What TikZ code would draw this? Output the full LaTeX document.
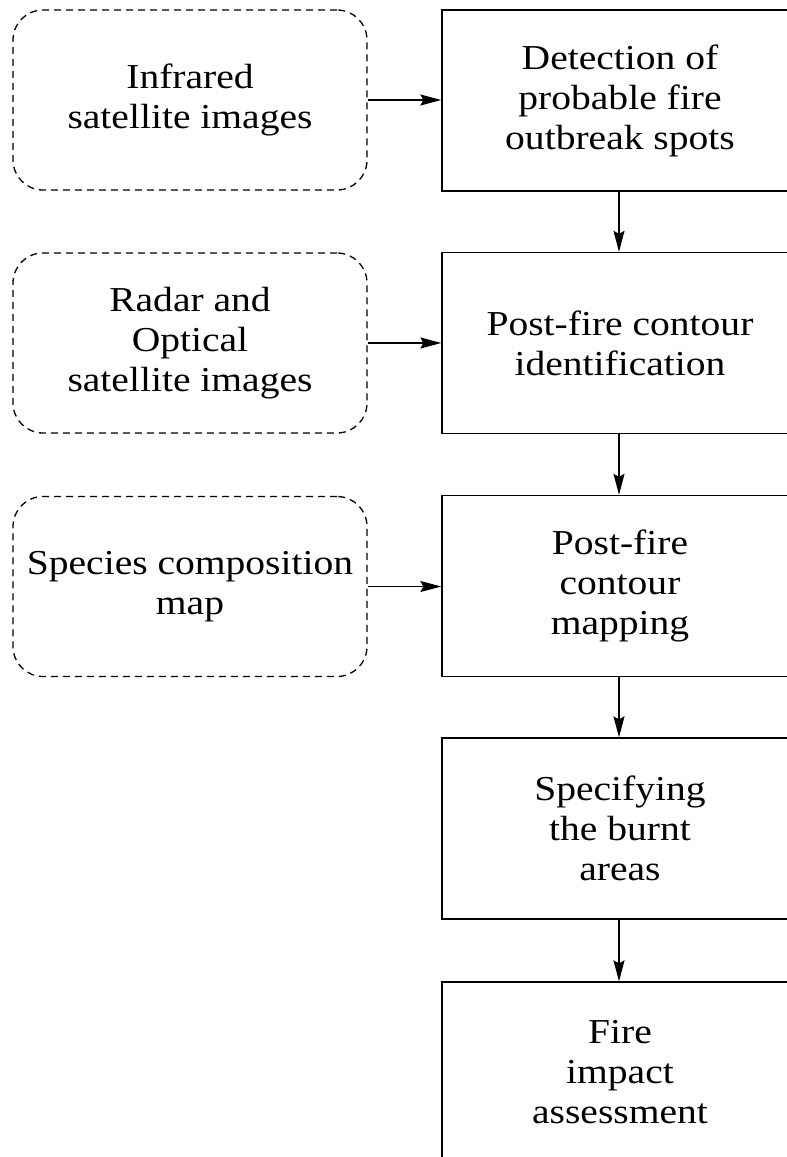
\documentclass[tikz,border=0pt]{standalone}
\usepackage{fontspec}
\setmainfont{Liberation Serif}[FakeStretch=1.13]
\usetikzlibrary{arrows.meta}
\begin{document}
\begin{tikzpicture}[x=1pt,y=-1pt,
  txt/.style={font=\fontsize{35}{40}\selectfont, align=center, inner sep=0pt},
  procbox/.style={txt, draw, line width=1.3pt, minimum width=356pt, minimum height=181pt},
  srcbox/.style={txt, draw, line width=1.3pt, dash pattern=on 7pt off 5pt, rounded corners=30pt, minimum width=354pt, minimum height=180pt},
  arr/.style={line width=1.3pt, -{Stealth[length=21pt,width=11pt,inset=3pt]}}
]
\useasboundingbox (0,0) rectangle (787,1157);
\clip (0,0) rectangle (787,1157);
\fill[white] (0,0) rectangle (787,1157);

\node[procbox] (p1) at (620,100.5) {Detection of\\probable fire\\outbreak spots};
\node[procbox] (p2) at (620,343) {Post-fire contour\\identification};
\node[procbox] (p3) at (620,586) {Post-fire\\contour\\mapping};
\node[procbox] (p4) at (620,828.5) {Specifying\\the burnt\\areas};
\node[procbox] (p5) at (620,1072.5) {Fire\\impact\\assessment};

\node[srcbox] (s1) at (190,100) {Infrared\\satellite images};
\node[srcbox] (s2) at (190,343) {Radar and\\Optical\\satellite images};
\node[srcbox] (s3) at (190,586.5) {Species composition\\map};

\draw[arr] (s1.east) -- (s1.east -| p1.west);
\draw[arr] (s2.east) -- (s2.east -| p2.west);
\draw[arr] (s3.east) -- (s3.east -| p3.west);

\draw[arr] (p1.south -| 619,0) -- (p2.north -| 619,0);
\draw[arr] (p2.south -| 619,0) -- (p3.north -| 619,0);
\draw[arr] (p3.south -| 619,0) -- (p4.north -| 619,0);
\draw[arr] (p4.south -| 619,0) -- (p5.north -| 619,0);
\end{tikzpicture}
\end{document}
